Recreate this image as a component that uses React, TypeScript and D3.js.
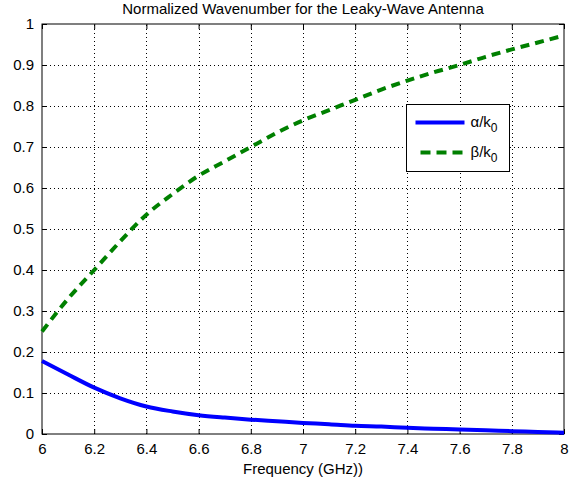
import React, { useRef, useEffect } from 'react';
import * as d3 from 'd3';

// frequency samples (GHz)
const freq = [6.0, 6.1, 6.2, 6.3, 6.4, 6.5, 6.6, 6.7, 6.8, 6.9, 7.0, 7.1, 7.2, 7.3, 7.4, 7.5, 7.6, 7.7, 7.8, 7.9, 8.0];
// alpha / k0
const alpha = [0.178, 0.145, 0.113, 0.087, 0.067, 0.055, 0.046, 0.040, 0.035, 0.031, 0.027, 0.024, 0.020, 0.018, 0.015, 0.013, 0.011, 0.009, 0.007, 0.005, 0.003];
// beta / k0
const beta = [0.25, 0.33, 0.40, 0.47, 0.535, 0.585, 0.63, 0.665, 0.70, 0.735, 0.765, 0.79, 0.815, 0.84, 0.862, 0.882, 0.90, 0.92, 0.938, 0.955, 0.972];

const xTicks = [6, 6.2, 6.4, 6.6, 6.8, 7, 7.2, 7.4, 7.6, 7.8, 8];
const yTicks = [0, 0.1, 0.2, 0.3, 0.4, 0.5, 0.6, 0.7, 0.8, 0.9, 1];

const App = () => {
  const svgRef = useRef<SVGSVGElement>(null);

  useEffect(() => {
    const svg = d3.select(svgRef.current);
    svg.selectAll('*').remove();

    const width = 587;
    const height = 481;
    const margin = { top: 24, right: 23, bottom: 47, left: 42 };
    const font = 'Liberation Sans, Arial, sans-serif';

    svg.attr('width', width).attr('height', height);
    svg.append('rect').attr('width', width).attr('height', height).attr('fill', '#fff');

    const x = d3.scaleLinear().domain([6, 8]).range([margin.left, width - margin.right]);
    const y = d3.scaleLinear().domain([0, 1]).range([height - margin.bottom, margin.top]);

    const [x0, x1] = x.range();
    const [y0, y1] = y.range();

    // dotted grid
    const grid = svg.append('g').attr('stroke', '#000').attr('stroke-width', 1).attr('stroke-dasharray', '1,3');
    grid.selectAll('.gx')
      .data(xTicks.slice(1, -1))
      .join('line')
      .attr('x1', d => Math.round(x(d)) + 0.5)
      .attr('x2', d => Math.round(x(d)) + 0.5)
      .attr('y1', y0)
      .attr('y2', y1);
    grid.selectAll('.gy')
      .data(yTicks.slice(1, -1))
      .join('line')
      .attr('y1', d => Math.round(y(d)) + 0.5)
      .attr('y2', d => Math.round(y(d)) + 0.5)
      .attr('x1', x0)
      .attr('x2', x1);

    // axes with inward ticks on all four sides
    const fmt = d3.format('');
    const bottom = svg.append('g')
      .attr('transform', `translate(0,${y0})`)
      .call(d3.axisBottom(x).tickValues(xTicks).tickSize(-5).tickPadding(9).tickFormat(d => fmt(d)).tickSizeOuter(0));
    const top = svg.append('g')
      .attr('transform', `translate(0,${y1})`)
      .call(d3.axisTop(x).tickValues(xTicks).tickSize(-5).tickFormat(() => '').tickSizeOuter(0));
    const left = svg.append('g')
      .attr('transform', `translate(${x0},0)`)
      .call(d3.axisLeft(y).tickValues(yTicks).tickSize(-5).tickPadding(8).tickFormat(d => fmt(d)).tickSizeOuter(0));
    const right = svg.append('g')
      .attr('transform', `translate(${x1},0)`)
      .call(d3.axisRight(y).tickValues(yTicks).tickSize(-5).tickFormat(() => '').tickSizeOuter(0));

    [bottom, top, left, right].forEach(g => {
      g.select('.domain').remove();
      g.selectAll('line').attr('stroke', '#000');
      g.selectAll('text').attr('fill', '#000').style('font-family', font).style('font-size', '15px');
    });

    // frame
    svg.append('rect')
      .attr('x', x0)
      .attr('y', y1)
      .attr('width', x1 - x0)
      .attr('height', y0 - y1)
      .attr('fill', 'none')
      .attr('stroke', '#000')
      .attr('stroke-width', 1);

    const line = d3.line<number>()
      .x((d, i) => x(freq[i]))
      .y(d => y(d))
      .curve(d3.curveMonotoneX);

    svg.append('path')
      .datum(alpha)
      .attr('d', line)
      .attr('fill', 'none')
      .attr('stroke', '#0000ff')
      .attr('stroke-width', 4);

    svg.append('path')
      .datum(beta)
      .attr('d', line)
      .attr('fill', 'none')
      .attr('stroke', '#008000')
      .attr('stroke-width', 4)
      .attr('stroke-dasharray', '9,6');

    // title and axis label
    svg.append('text')
      .attr('x', (x0 + x1) / 2)
      .attr('y', 14)
      .attr('text-anchor', 'middle')
      .style('font-family', font)
      .style('font-size', '15px')
      .text('Normalized Wavenumber for the Leaky-Wave Antenna');

    svg.append('text')
      .attr('x', (x0 + x1) / 2)
      .attr('y', 474)
      .attr('text-anchor', 'middle')
      .style('font-family', font)
      .style('font-size', '15px')
      .text('Frequency (GHz))');

    // legend
    const lg = svg.append('g').attr('transform', 'translate(406.5,104.5)');
    lg.append('rect').attr('width', 103).attr('height', 67).attr('fill', '#fff').attr('stroke', '#000');
    const items = [
      { name: 'α/k', color: '#0000ff', dash: null },
      { name: 'β/k', color: '#008000', dash: '10,6' },
    ];
    items.forEach((it, i) => {
      const yy = 18 + i * 30;
      lg.append('line')
        .attr('x1', it.dash ? 14 : 9)
        .attr('x2', 58)
        .attr('y1', yy)
        .attr('y2', yy)
        .attr('stroke', it.color)
        .attr('stroke-width', 4)
        .attr('stroke-dasharray', it.dash);
      const t = lg.append('text')
        .attr('x', 64)
        .attr('y', yy + 4)
        .style('font-family', font)
        .style('font-size', '15px')
        .text(it.name);
      t.append('tspan').attr('dy', 5).style('font-size', '12px').text('0');
    });
  }, []);

  return (
    <div style={{ position: 'absolute', left: 0, top: 0 }}>
      <svg ref={svgRef}></svg>
    </div>
  );
};

export default App;
